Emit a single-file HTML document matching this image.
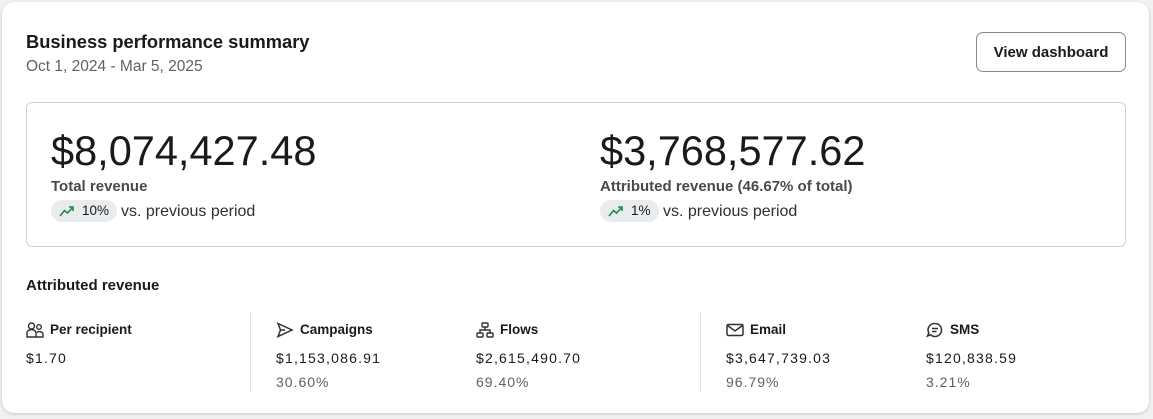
<!DOCTYPE html>
<html><head><meta charset="utf-8"><style>
html,body{margin:0;padding:0;width:1153px;height:419px;background:#f1f1f1;overflow:hidden;font-family:"Liberation Sans",sans-serif;color:#1a1a1a}
.a{position:absolute;white-space:nowrap}
#card{position:absolute;left:2px;top:2px;width:1147px;height:411px;background:#fff;border-radius:12px;box-shadow:0 1px 3px rgba(0,0,0,.18)}
.big{font-size:41.5px;color:#1a1a1a}
.lbl{font-size:15px;color:#4a4a4a;font-weight:bold}
.badge{height:22px;border-radius:11px;background:#e9ecef;font-size:13.5px;line-height:22px;padding-left:31px;padding-right:8px;color:#1a1a1a}
.badge svg{position:absolute;left:8px;top:5px}
.vs{font-size:16px;color:#303030}
.hd{font-size:13.5px;font-weight:bold;padding-left:24px}
.hd svg{position:absolute;left:0;top:0}
.val{font-size:14px;color:#1a1a1a;letter-spacing:1.2px}
.pct{font-size:14px;color:#616161;letter-spacing:1px}
.div{position:absolute;width:1px;background:#e3e3e3;top:312px;height:80px}
</style></head><body>
<div id="card"></div>
<div class="a" style="left:26px;top:31px;font-size:18.3px;font-weight:bold;color:#1a1a1a">Business performance summary</div>
<div class="a" style="left:26px;top:58px;font-size:15.5px;color:#616161">Oct 1, 2024 - Mar 5, 2025</div>
<div class="a" style="left:976px;top:32px;width:148px;height:38px;border:1px solid #8a8a8a;border-radius:7px;font-size:15px;font-weight:bold;line-height:40px;text-align:center;color:#1a1a1a">View dashboard</div>
<div class="a" style="left:26px;top:102px;width:1098px;height:143px;border:1px solid #cfd1d4;border-radius:6px"></div>

<div class="a big" style="left:51px;top:127px">$8,074,427.48</div>
<div class="a lbl" style="left:51px;top:178px">Total revenue</div>
<div class="a badge" style="left:51px;top:200px"><svg width="16" height="12" viewBox="0 0 16 12"><path d="M1 11 L5.5 5.5 L8.5 8 L14 2 M10 2 H14 V6" fill="none" stroke="#1f8a4c" stroke-width="1.6"/></svg>10%</div>
<div class="a vs" style="left:121px;top:203px">vs. previous period</div>

<div class="a big" style="left:600px;top:127px">$3,768,577.62</div>
<div class="a lbl" style="left:600px;top:178px">Attributed revenue (46.67% of total)</div>
<div class="a badge" style="left:600px;top:200px"><svg width="16" height="12" viewBox="0 0 16 12"><path d="M1 11 L5.5 5.5 L8.5 8 L14 2 M10 2 H14 V6" fill="none" stroke="#1f8a4c" stroke-width="1.6"/></svg>1%</div>
<div class="a vs" style="left:663px;top:203px">vs. previous period</div>

<div class="a" style="left:26px;top:277px;font-size:15px;font-weight:bold">Attributed revenue</div>

<div class="a hd" style="left:26px;top:322px"><svg width="18" height="16" viewBox="0 0 18 16" fill="none" stroke="#303030" stroke-width="1.4"><circle cx="5.5" cy="4" r="3"/><path d="M1 15 V11 a4 3 0 0 1 9 0 V15 Z"/><circle cx="13" cy="5" r="2.3"/><path d="M10 15 H17 V12 a3.5 3 0 0 0 -6 -1.5"/></svg>Per recipient</div>
<div class="a val" style="left:26px;top:350px">$1.70</div>
<div class="div" style="left:250px"></div>

<div class="a hd" style="left:276px;top:322px"><svg width="18" height="16" viewBox="0 0 18 16" fill="none" stroke="#303030" stroke-width="1.5"><path d="M2 1.5 L16 8 L2 14.5 L4.5 8 Z M4.5 8 H9"/></svg>Campaigns</div>
<div class="a val" style="left:276px;top:350px">$1,153,086.91</div>
<div class="a pct" style="left:276px;top:374px">30.60%</div>

<div class="a hd" style="left:476px;top:322px"><svg width="18" height="16" viewBox="0 0 18 16" fill="none" stroke="#303030" stroke-width="1.4"><rect x="6" y="1" width="6" height="4" rx="1"/><rect x="1" y="11" width="6" height="4" rx="1"/><rect x="11" y="11" width="6" height="4" rx="1"/><path d="M9 5 V8 M4 11 V8 H14 V11"/></svg>Flows</div>
<div class="a val" style="left:476px;top:350px">$2,615,490.70</div>
<div class="a pct" style="left:476px;top:374px">69.40%</div>
<div class="div" style="left:700px"></div>

<div class="a hd" style="left:726px;top:322px"><svg width="18" height="16" viewBox="0 0 18 16" fill="none" stroke="#303030" stroke-width="1.5"><rect x="1" y="2.5" width="16" height="11" rx="1.5"/><path d="M1.5 3.5 L9 9 L16.5 3.5"/></svg>Email</div>
<div class="a val" style="left:726px;top:350px">$3,647,739.03</div>
<div class="a pct" style="left:726px;top:374px">96.79%</div>

<div class="a hd" style="left:926px;top:322px"><svg width="18" height="16" viewBox="0 0 18 16" fill="none" stroke="#303030" stroke-width="1.5"><path d="M9 1.5 a6.5 6.5 0 1 1 -4.5 11.2 L1.5 14 L2.8 11 A6.5 6.5 0 0 1 9 1.5 Z"/><path d="M6 6.5 H12 M6 9.5 H10.5"/></svg>SMS</div>
<div class="a val" style="left:926px;top:350px">$120,838.59</div>
<div class="a pct" style="left:926px;top:374px">3.21%</div>
</body></html>
